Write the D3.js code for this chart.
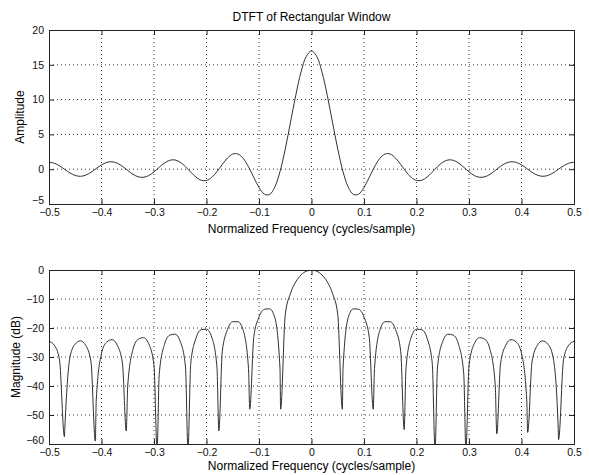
<!DOCTYPE html>
<html>
<head>
<meta charset="utf-8">
<script src="https://cdn.jsdelivr.net/npm/d3@7"></script>
<style>
  body { margin: 0; background: #fff; }
  svg text { font-family: "Liberation Sans", Arial, sans-serif; }
</style>
</head>
<body>
<div id="chart"></div>
<script>
let w = 589;
let h = 475;

// frequency grid (cycles/sample), step 0.01
let freq = d3.range(-50, 51).map(i => i / 100);

// amplitude
let amplitude = [
  1.0, 0.86, 0.48, -0.03, -0.54, -0.90, -1.02, -0.85, -0.44, 0.10,
  0.62, 0.98, 1.07, 0.86, 0.41, -0.18, -0.73, -1.09, -1.16, -0.91,
  -0.38, 0.28, 0.89, 1.28, 1.33, 1.0, 0.36, -0.42, -1.14, -1.59,
  -1.62, -1.18, -0.35, 0.67, 1.60, 2.18, 2.18, 1.54, 0.34, -1.17,
  -2.62, -3.57, -3.64, -2.58, -0.34, 2.90, 6.74, 10.62, 13.95, 16.2,
  17,
  16.2, 13.95, 10.62, 6.74, 2.90, -0.34, -2.58, -3.64, -3.57, -2.62,
  -1.17, 0.34, 1.54, 2.18, 2.18, 1.60, 0.67, -0.35, -1.18, -1.62,
  -1.59, -1.14, -0.42, 0.36, 1.0, 1.33, 1.28, 0.89, 0.28, -0.38,
  -0.91, -1.16, -1.09, -0.73, -0.18, 0.41, 0.86, 1.07, 0.98, 0.62,
  0.10, -0.44, -0.85, -1.02, -0.90, -0.54, -0.03, 0.48, 0.86, 1.0
];

// magnitude in dB, same grid
let magnitude = [
  -24.61, -25.92, -30.99, -55.1, -29.96, -25.53, -24.44, -26.02, -31.74, -44.8,
  -28.76, -24.83, -24.02, -25.92, -32.35, -39.75, -27.35, -23.86, -23.32, -25.43,
  -33.01, -35.79, -25.62, -22.46, -22.13, -24.61, -33.48, -32.14, -23.47, -20.58,
  -20.42, -23.17, -33.73, -28.15, -20.53, -17.84, -17.84, -20.86, -33.98, -23.25,
  -16.24, -13.56, -13.39, -16.38, -34.1, -15.36, -8.04, -4.09, -1.72, -0.42,
  0,
  -0.42, -1.72, -4.09, -8.04, -15.36, -34.1, -16.38, -13.39, -13.56, -16.24,
  -23.25, -33.98, -20.86, -17.84, -17.84, -20.53, -28.15, -33.73, -23.17, -20.42,
  -20.58, -23.47, -32.14, -33.48, -24.61, -22.13, -22.46, -25.62, -35.79, -33.01,
  -25.43, -23.32, -23.86, -27.35, -39.75, -32.35, -25.92, -24.02, -24.83, -28.76,
  -44.8, -31.74, -26.02, -24.44, -25.53, -29.96, -55.1, -30.99, -25.92, -24.61
];

// the nulls of the dB plot and how deep they were drawn
let nullFreq = [-0.4706, -0.4118, -0.3529, -0.2941, -0.2353, -0.1765, -0.1176, -0.0588,
                0.0588, 0.1176, 0.1765, 0.2353, 0.2941, 0.3529, 0.4118, 0.4706];
let nullDb = [-57.5, -59, -55.5, -62, -62, -55.5, -48, -48,
              -48, -48, -55, -62, -62, -56.5, -56, -58.5];

let xTicks = [-0.5, -0.4, -0.3, -0.2, -0.1, 0, 0.1, 0.2, 0.3, 0.4, 0.5];
let ampTicks = [-5, 0, 5, 10, 15, 20];
let dbTicks = [-60, -50, -40, -30, -20, -10, 0];

let viz = d3.select("#chart")
  .append("svg")
  .attr("width", w)
  .attr("height", h);

let left = 49, right = 574;
let xScale = d3.scaleLinear().domain([-0.5, 0.5]).range([left, right]);

let fmt = d => d3.format("")(d);

function panel(top, bottom, yDomain, yTicks, values, curve, ylabel, xlabelGap, clipId) {
  let yScale = d3.scaleLinear().domain(yDomain).range([bottom, top]);
  let g = viz.append("g");

  // dotted grid
  g.append("g").selectAll("line").data(xTicks.slice(1, -1)).enter()
    .append("line")
    .attr("x1", d => xScale(d)).attr("x2", d => xScale(d))
    .attr("y1", top).attr("y2", bottom)
    .attr("stroke", "#000").attr("stroke-width", 0.8)
    .attr("stroke-dasharray", "1,3");
  g.append("g").selectAll("line").data(yTicks.slice(1, -1)).enter()
    .append("line")
    .attr("x1", left).attr("x2", right)
    .attr("y1", d => yScale(d)).attr("y2", d => yScale(d))
    .attr("stroke", "#000").attr("stroke-width", 0.8)
    .attr("stroke-dasharray", "1,3");

  // axes with inward ticks
  let xAxis = d3.axisBottom(xScale).tickValues(xTicks).tickSize(-5).tickPadding(5).tickFormat(fmt);
  let xTop = d3.axisTop(xScale).tickValues(xTicks).tickSize(-5).tickFormat("");
  let yAxis = d3.axisLeft(yScale).tickValues(yTicks).tickSize(-5).tickPadding(5).tickFormat(fmt);
  let yRight = d3.axisRight(yScale).tickValues(yTicks).tickSize(-5).tickFormat("");

  g.append("g").attr("transform", `translate(0,${bottom})`).call(xAxis);
  g.append("g").attr("transform", `translate(0,${top})`).call(xTop);
  let yg = g.append("g").attr("transform", `translate(${left},0)`).call(yAxis);
  g.append("g").attr("transform", `translate(${right},0)`).call(yRight);

  g.selectAll(".tick text").attr("font-size", 10.5).attr("fill", "#111")
    .attr("font-family", "Liberation Sans, Arial, sans-serif");
  // lowest y label sits just above the x labels, as in the original
  yg.selectAll(".tick text").filter(d => d === yDomain[0]).attr("dy", "-0.05em");
  g.selectAll(".domain").attr("stroke", "#222");
  g.selectAll(".tick line").attr("stroke", "#222");

  viz.append("clipPath").attr("id", clipId)
    .append("rect").attr("x", left).attr("y", top)
    .attr("width", right - left).attr("height", bottom - top);

  let line = d3.line()
    .x(d => xScale(d[0]))
    .y(d => yScale(d[1]))
    .curve(curve);

  g.append("path")
    .datum(values)
    .attr("clip-path", `url(#${clipId})`)
    .attr("fill", "none")
    .attr("stroke", "#1a1a1a")
    .attr("stroke-width", 0.9)
    .attr("d", line);

  g.append("text")
    .attr("transform", `translate(${ylabel.x},${(top + bottom) / 2}) rotate(-90)`)
    .attr("text-anchor", "middle")
    .attr("font-size", 12)
    .text(ylabel.text);

  g.append("text")
    .attr("x", (left + right) / 2)
    .attr("y", bottom + xlabelGap)
    .attr("text-anchor", "middle")
    .attr("font-size", 12)
    .text("Normalized Frequency (cycles/sample)");
}

let ampData = freq.map((f, i) => [f, amplitude[i]]);
let magData = freq.map((f, i) => [f, magnitude[i]])
  .concat(nullFreq.map((f, i) => [f, nullDb[i]]))
  .sort((a, b) => a[0] - b[0]);

viz.append("text")
  .attr("x", (left + right) / 2)
  .attr("y", 21)
  .attr("text-anchor", "middle")
  .attr("font-size", 12)
  .text("DTFT of Rectangular Window");

panel(30, 204, [-5, 20], ampTicks, ampData, d3.curveCatmullRom, {x: 24, text: "Amplitude"}, 29, "clipTop");
panel(270, 444, [-60, 0], dbTicks, magData, d3.curveMonotoneX, {x: 20, text: "Magnitude (dB)"}, 26, "clipBottom");
</script>
</body>
</html>
